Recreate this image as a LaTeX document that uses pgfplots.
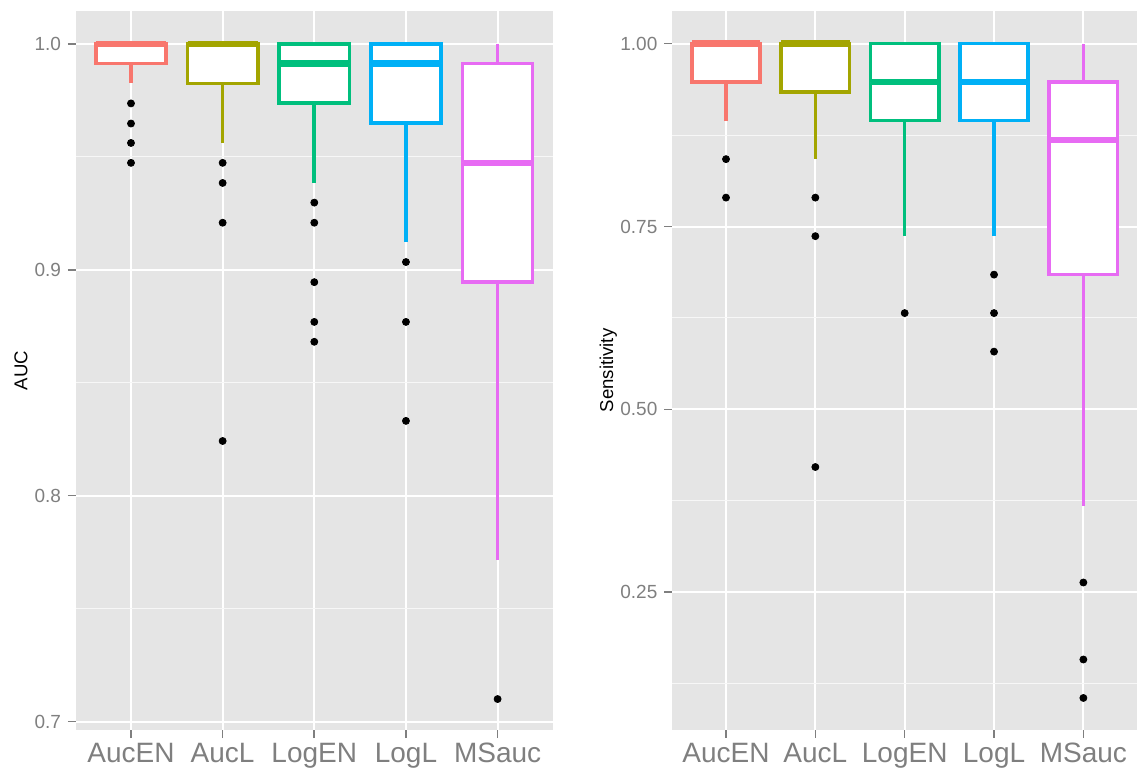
\documentclass[border=0pt]{standalone}
\usepackage{fontspec}
\setmainfont{Liberation Sans}
\usepackage{pgfplots}
\pgfplotsset{compat=1.18}
\usepgfplotslibrary{statistics}

\definecolor{cA}{HTML}{F8766D}
\definecolor{cB}{HTML}{A3A500}
\definecolor{cC}{HTML}{00BF7D}
\definecolor{cD}{HTML}{00B0F6}
\definecolor{cE}{HTML}{E76BF3}
\definecolor{panelbg}{HTML}{E5E5E5}
\definecolor{ticktext}{HTML}{7F7F7F}

\pgfplotsset{
  boxplot/draw direction=y,
  boxplot/box extend=0.765,
  boxplot/whisker extend=0,
  boxplot/every median/.style={line width=3.2pt},
  gg/.style={
    scale only axis,
    height=359.5pt,
    xmin=0.4, xmax=5.6,
    axis background/.style={fill=panelbg},
    axis line style={draw=none},
    xtick={1,2,3,4,5},
    xticklabels={AucEN,AucL,LogEN,LogL,MSauc},
    xtick pos=bottom, ytick pos=left,
    tick align=outside,
    major tick length=4pt,
    minor tick length=0pt,
    tick style={ticktext, line width=0.8pt},
    xmajorgrids, ymajorgrids, yminorgrids,
    major grid style={white, line width=1pt},
    minor grid style={white!70!panelbg, line width=0.5pt},
    x tick label style={font=\fontsize{14}{16}\selectfont, text=ticktext, yshift=1pt},
    y tick label style={font=\fontsize{9.5}{11}\selectfont, text=ticktext},
    /pgf/number format/assume math mode=true,
    every axis y label/.style={at={(axis description cs:0,0.5)}, rotate=90, anchor=center, font=\fontsize{9.3}{11}\selectfont},
  },
  bx/.style={draw=#1, fill=white, solid, line width=1.8pt},
  outl/.style={only marks, mark=*, mark size=1.75pt, black, mark options={fill=black, draw=none}},
}

\begin{document}
\begin{tikzpicture}
\begin{axis}[gg, at={(38pt,21pt)}, anchor=south west,
  width=238.3pt,
  ymin=0.6963, ymax=1.0145,
  ytick={0.7,0.8,0.9,1.0},
  minor ytick={0.75,0.85,0.95},
  yticklabel style={/pgf/number format/.cd, fixed, fixed zerofill, precision=1},
  ylabel={AUC},
  ylabel style={yshift=27.5pt},
]
\addplot[bx=cA, boxplot prepared={median=1.0, upper quartile=1.0, lower quartile=0.9913, upper whisker=1.0, lower whisker=0.9827, draw position=1}] coordinates {};
\addplot[bx=cB, boxplot prepared={median=1.0, upper quartile=1.0, lower quartile=0.9824, upper whisker=1.0, lower whisker=0.9561, draw position=2}] coordinates {};
\addplot[bx=cC, boxplot prepared={median=0.9913, upper quartile=1.0, lower quartile=0.9738, upper whisker=1.0, lower whisker=0.9384, draw position=3}] coordinates {};
\addplot[bx=cD, boxplot prepared={median=0.9913, upper quartile=1.0, lower quartile=0.9650, upper whisker=1.0, lower whisker=0.9122, draw position=4}] coordinates {};
\addplot[bx=cE, boxplot prepared={median=0.9473, upper quartile=0.9913, lower quartile=0.8945, upper whisker=1.0, lower whisker=0.7716, draw position=5}] coordinates {};
\addplot[outl] coordinates {
 (1,0.9736) (1,0.9647) (1,0.9561) (1,0.9473)
 (2,0.9473) (2,0.9384) (2,0.9208) (2,0.8242)
 (3,0.9297) (3,0.9208) (3,0.8945) (3,0.8769) (3,0.8681)
 (4,0.9034) (4,0.8769) (4,0.8331)
 (5,0.7100)
};
\end{axis}

\begin{axis}[gg, at={(336.2pt,21pt)}, anchor=south west,
  width=232.3pt,
  ymin=0.0615, ymax=1.0447,
  ytick={0.25,0.5,0.75,1.0},
  minor ytick={0.125,0.375,0.625,0.875},
  yticklabel style={/pgf/number format/.cd, fixed, fixed zerofill, precision=2},
  ylabel={Sensitivity},
  ylabel style={yshift=32pt},
]
\addplot[bx=cA, boxplot prepared={median=1.0, upper quartile=1.0, lower quartile=0.9474, upper whisker=1.0, lower whisker=0.8947, draw position=1}] coordinates {};
\addplot[bx=cB, boxplot prepared={median=1.0, upper quartile=1.0, lower quartile=0.9342, upper whisker=1.0, lower whisker=0.8421, draw position=2}] coordinates {};
\addplot[bx=cC, boxplot prepared={median=0.9474, upper quartile=1.0, lower quartile=0.8947, upper whisker=1.0, lower whisker=0.7368, draw position=3}] coordinates {};
\addplot[bx=cD, boxplot prepared={median=0.9474, upper quartile=1.0, lower quartile=0.8947, upper whisker=1.0, lower whisker=0.7368, draw position=4}] coordinates {};
\addplot[bx=cE, boxplot prepared={median=0.8684, upper quartile=0.9474, lower quartile=0.6842, upper whisker=1.0, lower whisker=0.3684, draw position=5}] coordinates {};
\addplot[outl] coordinates {
 (1,0.8421) (1,0.7895)
 (2,0.7895) (2,0.7368) (2,0.4211)
 (3,0.6316)
 (4,0.6842) (4,0.6316) (4,0.5789)
 (5,0.2632) (5,0.1579) (5,0.1053)
};
\end{axis}
\pgfresetboundingbox
\useasboundingbox (0,0) rectangle (568.5pt,386pt);
\end{tikzpicture}
\end{document}
